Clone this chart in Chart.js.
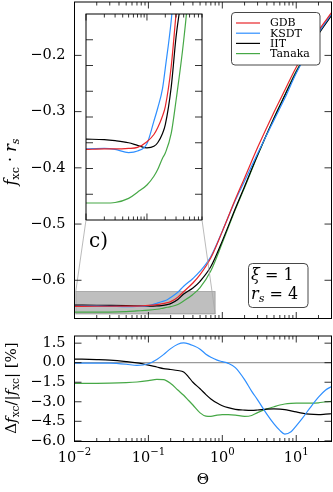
<!DOCTYPE html>
<html>
<head>
<meta charset="utf-8">
<script src="https://cdn.jsdelivr.net/npm/chart.js@4.4.0/dist/chart.umd.min.js"></script>
<style>
  body { margin: 0; background: #fff; width: 333px; height: 492px; overflow: hidden; position: relative; }
  canvas { position: absolute; }
  #top { left: 0; top: 0; }
  #bot { left: 0; top: 325px; }
  #inset { left: 85px; top: 13px; }
</style>
</head>
<body>
<canvas id="top" width="333" height="325"></canvas>
<canvas id="bot" width="333" height="167"></canvas>
<canvas id="inset" width="118" height="208"></canvas>
<script>
// values
const thetaTop = [0.01, 0.02, 0.03, 0.05, 0.07, 0.1, 0.13, 0.15, 0.18, 0.2, 0.25, 0.3, 0.4, 0.5, 0.7, 1, 1.5, 2, 3, 5, 7, 10, 15, 20, 30];
const gdbTop = [-0.6463, -0.6462, -0.6462, -0.6461, -0.6459, -0.6448, -0.6434, -0.6421, -0.6398, -0.6380, -0.6302, -0.6200, -0.6048, -0.5900, -0.5600, -0.5130, -0.4560, -0.4180, -0.3640, -0.3010, -0.2620, -0.2210, -0.1830, -0.1560, -0.1240];
const ksdtTop = [-0.6462, -0.6461, -0.6463, -0.6469, -0.6466, -0.6452, -0.6408, -0.6383, -0.6345, -0.6305, -0.6213, -0.6106, -0.5968, -0.5839, -0.5576, -0.5126, -0.4577, -0.4234, -0.3744, -0.3151, -0.2764, -0.2317, -0.1895, -0.1601, -0.1263];
const iitTop = [-0.6443, -0.6444, -0.6446, -0.6450, -0.6455, -0.6460, -0.6457, -0.6450, -0.6432, -0.6415, -0.6342, -0.6245, -0.6136, -0.6018, -0.5756, -0.5299, -0.4723, -0.4332, -0.3772, -0.3117, -0.2714, -0.2294, -0.1902, -0.1622, -0.1289];
const tanakaTop = [-0.6567, -0.6567, -0.6566, -0.6558, -0.6546, -0.6532, -0.6515, -0.6502, -0.6480, -0.6470, -0.6432, -0.6368, -0.6252, -0.6130, -0.5831, -0.5334, -0.4743, -0.4352, -0.3779, -0.3112, -0.2703, -0.2279, -0.1887, -0.1608, -0.1277];

const thetaBot = [0.01, 0.02, 0.03, 0.05, 0.07, 0.1, 0.13, 0.16, 0.2, 0.25, 0.3, 0.35, 0.4, 0.5, 0.6, 0.7, 0.85, 1, 1.2, 1.5, 2, 2.5, 3, 4, 5, 6, 7, 8.5, 10, 12, 15, 20, 25, 30];
const ksdtDiff = [-0.03, -0.03, -0.04, -0.12, -0.2, -0.08, 0.25, 0.62, 1.08, 1.42, 1.52, 1.45, 1.32, 1.04, 0.65, 0.42, 0.2, 0.08, -0.05, -0.38, -1.3, -2.2, -2.85, -3.95, -4.7, -5.2, -5.48, -5.3, -4.85, -4.3, -3.55, -2.65, -2.1, -1.83];
const iitDiff = [0.28, 0.24, 0.20, 0.09, -0.01, -0.18, -0.33, -0.45, -0.52, -0.60, -0.72, -1.1, -1.5, -2.0, -2.45, -2.78, -3.1, -3.3, -3.45, -3.58, -3.64, -3.66, -3.63, -3.56, -3.55, -3.56, -3.6, -3.7, -3.78, -3.87, -3.95, -3.98, -3.95, -3.92];
const tanakaDiff = [-1.58, -1.58, -1.57, -1.53, -1.48, -1.38, -1.28, -1.30, -1.6, -2.1, -2.5, -2.9, -3.25, -3.85, -4.1, -4.12, -4.02, -3.98, -3.98, -4.02, -4.12, -4.05, -3.83, -3.55, -3.38, -3.25, -3.17, -3.12, -3.1, -3.1, -3.1, -3.08, -3.0, -2.97];

const labels = ['GDB', 'KSDT', 'IIT', 'Tanaka'];
const xRange = [0.01, 30];
const yRangeTop = [-0.668, -0.105];
const yRangeBot = [-6.05, 2.05];
const insetX = [0.0104, 0.8];
const insetY = [-0.66, -0.62];
const yTicksTop = [-0.6, -0.5, -0.4, -0.3, -0.2];
const yTicksBot = [1.5, 0, -1.5, -3, -4.5, -6];
const yTicksInset = [-0.655, -0.65, -0.645, -0.64, -0.635, -0.63, -0.625];
const xTicksMajor = [0.01, 0.1, 1, 10];
const xTickExp = ['−2', '−1', '0', '1'];

const RED = '#e8262b', BLUE = '#2e8fff', BLACK = '#000000', GREEN = '#46a846';
const FONT = 'DejaVu Serif';

function series(label, xs, ys, color) {
  return {
    label: label,
    data: xs.map((x, i) => ({ x: x, y: ys[i] })),
    borderColor: color,
    backgroundColor: color,
    borderWidth: 1.2,
    pointRadius: 0,
    fill: false,
    cubicInterpolationMode: 'monotone'
  };
}

function topSets() {
  return [
    series(labels[0], thetaTop, gdbTop, RED),
    series(labels[1], thetaTop, ksdtTop, BLUE),
    series(labels[2], thetaTop, iitTop, BLACK),
    series(labels[3], thetaTop, tanakaTop, GREEN)
  ];
}

function minus(v, d) {
  return v.toFixed(d).replace('-', '−');
}

function logTicks(min, max) {
  const major = [], minor = [];
  for (let e = -3; e <= 2; e++) {
    for (let k = 1; k <= 9; k++) {
      const v = k * Math.pow(10, e);
      if (v < min * 0.999 || v > max * 1.001) continue;
      (k === 1 ? major : minor).push(v);
    }
  }
  return { major, minor };
}

function drawFrame(chart, yTicks) {
  const { ctx, chartArea: a, scales: { x, y } } = chart;
  ctx.save();
  ctx.strokeStyle = '#000';
  ctx.lineWidth = 0.8;
  const lt = logTicks(x.min, x.max);
  ctx.beginPath();
  const tick = (v, len) => {
    const px = x.getPixelForValue(v);
    ctx.moveTo(px, a.bottom); ctx.lineTo(px, a.bottom - len);
    ctx.moveTo(px, a.top); ctx.lineTo(px, a.top + len);
  };
  lt.major.forEach(v => tick(v, 6.5));
  lt.minor.forEach(v => tick(v, 3.5));
  yTicks.forEach(v => {
    const py = y.getPixelForValue(v);
    ctx.moveTo(a.left, py); ctx.lineTo(a.left + 7, py);
    ctx.moveTo(a.right, py); ctx.lineTo(a.right - 7, py);
  });
  ctx.stroke();
  ctx.lineWidth = 1;
  ctx.strokeRect(a.left, a.top, a.right - a.left, a.bottom - a.top);
  ctx.restore();
}

function roundBox(ctx, x, y, w, h, r) {
  ctx.beginPath();
  ctx.moveTo(x + r, y);
  ctx.arcTo(x + w, y, x + w, y + h, r);
  ctx.arcTo(x + w, y + h, x, y + h, r);
  ctx.arcTo(x, y + h, x, y, r);
  ctx.arcTo(x, y, x + w, y, r);
  ctx.closePath();
}

// parts: [text, style]  style: 'r' roman, 'i' italic, 'sr' roman subscript, 'si' italic subscript, 'sup' superscript
function richText(ctx, parts, cx, cy, size, rot, align) {
  const fontOf = st => {
    const it = (st === 'i' || st === 'si') ? 'italic ' : '';
    const sz = (st === 'sr' || st === 'si' || st === 'sup') ? size * 0.7 : size;
    return it + sz + 'px "' + FONT + '"';
  };
  ctx.save();
  ctx.translate(cx, cy);
  if (rot) ctx.rotate(rot);
  ctx.textBaseline = 'middle';
  ctx.textAlign = 'left';
  let w = 0;
  parts.forEach(p => { ctx.font = fontOf(p[1]); w += ctx.measureText(p[0]).width; });
  let px = align === 'left' ? 0 : -w / 2;
  parts.forEach(p => {
    ctx.font = fontOf(p[1]);
    let dy = 0;
    if (p[1] === 'sr' || p[1] === 'si') dy = size * 0.28;
    if (p[1] === 'sup') dy = -size * 0.42;
    ctx.fillText(p[0], px, dy);
    px += ctx.measureText(p[0]).width;
  });
  ctx.restore();
}

function fixAxis(w, h) {
  return s => {
    if (w != null) s.width = w;
    if (h != null) s.height = h;
    s.paddingTop = 0; s.paddingBottom = 0; s.paddingLeft = 0; s.paddingRight = 0;
  };
}

const noGrid = { display: false, drawTicks: false };

// main panel
const topDeco = {
  id: 'topDeco',
  beforeDatasetsDraw(chart) {
    const { ctx, scales: { x, y } } = chart;
    const x0 = x.getPixelForValue(insetX[0]), x1 = x.getPixelForValue(insetX[1]);
    const y0 = y.getPixelForValue(insetY[1]), y1 = y.getPixelForValue(insetY[0]);
    ctx.save();
    ctx.fillStyle = 'rgba(0,0,0,0.25)';
    ctx.fillRect(x0, y0, x1 - x0, y1 - y0);
    ctx.strokeStyle = 'rgba(0,0,0,0.3)';
    ctx.lineWidth = 0.8;
    ctx.strokeRect(x0, y0, x1 - x0, y1 - y0);
    ctx.restore();
  },
  afterDatasetsDraw(chart) {
    const { ctx, scales: { x, y } } = chart;
    const x0 = x.getPixelForValue(insetX[0]), x1 = x.getPixelForValue(insetX[1]);
    const y0 = y.getPixelForValue(insetY[1]), y1 = y.getPixelForValue(insetY[0]);
    ctx.save();
    // connectors towards the inset corners
    ctx.strokeStyle = '#a8a8a8';
    ctx.lineWidth = 0.8;
    ctx.beginPath();
    ctx.moveTo(x0, y0); ctx.lineTo(86, 220);
    ctx.moveTo(x1, y1); ctx.lineTo(202, 220);
    ctx.stroke();

    // legend
    roundBox(ctx, 231.5, 12.5, 88.5, 52.5, 3.5);
    ctx.fillStyle = '#fff';
    ctx.fill();
    ctx.strokeStyle = '#333';
    ctx.lineWidth = 0.9;
    ctx.stroke();
    ctx.font = '11px "' + FONT + '"';
    ctx.textBaseline = 'middle';
    chart.data.datasets.forEach((d, i) => {
      const yy = 23 + i * 10.2;
      ctx.strokeStyle = d.borderColor;
      ctx.lineWidth = 1.2;
      ctx.beginPath(); ctx.moveTo(236, yy); ctx.lineTo(260, yy); ctx.stroke();
      ctx.fillStyle = '#000';
      ctx.fillText(d.label, 270, yy + 0.5);
    });

    // parameter box
    roundBox(ctx, 248.5, 263.5, 59.5, 44, 4);
    ctx.fillStyle = '#fff';
    ctx.fill();
    ctx.strokeStyle = '#333';
    ctx.lineWidth = 0.9;
    ctx.stroke();
    ctx.fillStyle = '#000';
    richText(ctx, [['ξ', 'i'], [' = 1', 'r']], 251, 276, 16, 0, 'left');
    richText(ctx, [['r', 'i'], ['s', 'si'], [' = 4', 'r']], 251, 295, 16, 0, 'left');

    // panel tag
    ctx.font = '20px "' + FONT + '"';
    ctx.textBaseline = 'middle';
    ctx.fillText('c)', 89, 242);
    ctx.restore();
  },
  afterDraw(chart) {
    drawFrame(chart, yTicksTop);
    const ctx = chart.ctx;
    ctx.save();
    ctx.fillStyle = '#000';
    richText(ctx, [['f', 'i'], ['xc', 'sr'], [' · ', 'r'], ['r', 'i'], ['s', 'si']], 12, 162, 16, -Math.PI / 2);
    ctx.restore();
  }
};

new Chart(document.getElementById('top'), {
  type: 'line',
  data: { datasets: topSets() },
  options: {
    responsive: false,
    animation: false,
    events: [],
    layout: { padding: { top: 2, right: 1.5, left: 0, bottom: 0 } },
    plugins: { legend: { display: false }, tooltip: { enabled: false } },
    scales: {
      x: {
        type: 'logarithmic', min: xRange[0], max: xRange[1],
        afterBuildTicks: s => { s.ticks = xTicksMajor.map(v => ({ value: v })); },
        ticks: { display: false },
        grid: noGrid, border: { display: false },
        afterFit: fixAxis(null, 6.5)
      },
      y: {
        min: yRangeTop[0], max: yRangeTop[1],
        afterBuildTicks: s => { s.ticks = yTicksTop.map(v => ({ value: v })); },
        ticks: { callback: v => minus(v, 1), font: { family: FONT, size: 14.5 }, color: '#000', padding: 9 },
        grid: noGrid, border: { display: false },
        afterFit: fixAxis(74.5, null)
      }
    }
  },
  plugins: [topDeco]
});

// zoomed inset
const insetDeco = {
  id: 'insetDeco',
  beforeDraw(chart) {
    const ctx = chart.ctx;
    ctx.save();
    ctx.fillStyle = '#fff';
    ctx.fillRect(0, 0, chart.width, chart.height);
    ctx.restore();
  },
  afterDraw(chart) {
    drawFrame(chart, yTicksInset);
  }
};

new Chart(document.getElementById('inset'), {
  type: 'line',
  data: { datasets: topSets() },
  options: {
    responsive: false,
    animation: false,
    events: [],
    layout: { padding: 1 },
    plugins: { legend: { display: false }, tooltip: { enabled: false } },
    scales: {
      x: { type: 'logarithmic', min: 0.01, max: insetX[1], display: false },
      y: { min: insetY[0], max: insetY[1], display: false }
    }
  },
  plugins: [insetDeco]
});

// relative difference panel
const botDeco = {
  id: 'botDeco',
  beforeDatasetsDraw(chart) {
    const { ctx, chartArea: a, scales: { y } } = chart;
    const py = y.getPixelForValue(0);
    ctx.save();
    ctx.strokeStyle = '#9a9a9a';
    ctx.lineWidth = 1.2;
    ctx.beginPath(); ctx.moveTo(a.left, py); ctx.lineTo(a.right, py); ctx.stroke();
    ctx.restore();
  },
  afterDraw(chart) {
    drawFrame(chart, yTicksBot);
    const { ctx, chartArea: a, scales: { x } } = chart;
    ctx.save();
    ctx.fillStyle = '#000';
    xTicksMajor.forEach((v, i) => {
      const px = x.getPixelForValue(v);
      richText(ctx, [['10', 'r'], [xTickExp[i], 'sup']], px, a.bottom + 17, 14.5);
    });
    richText(ctx, [['Θ', 'r']], (a.left + a.right) / 2, a.bottom + 39, 15);
    richText(ctx, [['Δ', 'r'], ['f', 'i'], ['xc', 'sr'], ['/|', 'r'], ['f', 'i'], ['xc', 'sr'], ['| [%]', 'r']], 12, 388 - 325, 15, -Math.PI / 2);
    ctx.restore();
  }
};

new Chart(document.getElementById('bot'), {
  type: 'line',
  data: {
    datasets: [
      series(labels[1], thetaBot, ksdtDiff, BLUE),
      series(labels[2], thetaBot, iitDiff, BLACK),
      series(labels[3], thetaBot, tanakaDiff, GREEN)
    ]
  },
  options: {
    responsive: false,
    animation: false,
    events: [],
    layout: { padding: { top: 11, right: 1.5, left: 0, bottom: 0 } },
    plugins: { legend: { display: false }, tooltip: { enabled: false } },
    scales: {
      x: {
        type: 'logarithmic', min: xRange[0], max: xRange[1],
        afterBuildTicks: s => { s.ticks = xTicksMajor.map(v => ({ value: v })); },
        ticks: { display: false },
        grid: noGrid, border: { display: false },
        afterFit: fixAxis(null, 50.5)
      },
      y: {
        min: yRangeBot[0], max: yRangeBot[1],
        afterBuildTicks: s => { s.ticks = yTicksBot.map(v => ({ value: v })); },
        ticks: { callback: v => minus(v, 1), font: { family: FONT, size: 14.5 }, color: '#000', padding: 9 },
        grid: noGrid, border: { display: false },
        afterFit: fixAxis(74.5, null)
      }
    }
  },
  plugins: [botDeco]
});
</script>
</body>
</html>
